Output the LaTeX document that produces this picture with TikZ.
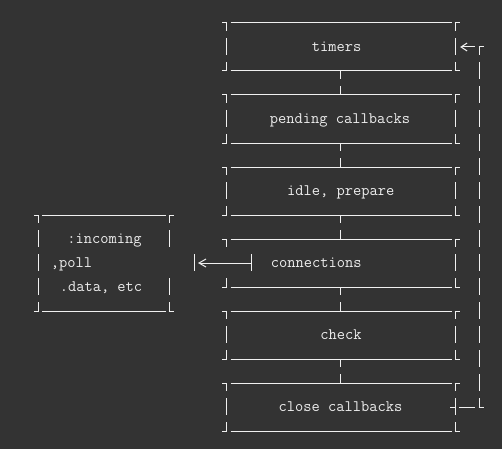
\documentclass[tikz,border=0pt]{standalone}
\usepackage{fontspec}
\usetikzlibrary{calc,arrows.meta}
\definecolor{bg}{HTML}{333333}
\definecolor{fg}{HTML}{F0F0F0}
\definecolor{txt}{HTML}{EEEEEE}
\tikzset{
  ln/.style={draw=fg, line width=1pt},
  rowdash/.style={ln, dash pattern=on 17pt off 7pt, dash phase=9pt},
  stagebox/.style={draw=none, minimum width=228.7pt, minimum height=48pt, inner sep=0pt, outer sep=0pt},
  lbl/.style={text=txt, font=\ttfamily\fontsize{16}{18}\selectfont, inner sep=0pt, anchor=base},
  barb/.style={-{Straight Barb[length=#1pt,width=8pt]}},
}
\newcommand\hedge[2]{%
  \draw[ln] ($(#1)+(-4.5,0)$) -- ($(#1)+(0.5,0)$);
  \draw[ln] ($(#1)+(4,0)$) -- ($(#2)+(-3.5,0)$);
  \draw[ln] ($(#2)+(-0.5,0)$) -- ($(#2)+(5,0)$);
}
\newcommand\stageframe[1]{%
  \hedge{#1.north west}{#1.north east}
  \hedge{#1.south west}{#1.south east}
}
\begin{document}
\begin{tikzpicture}[x=1pt,y=-1pt]
\fill[bg] (0,0) rectangle (502,449);
\useasboundingbox (0,0) rectangle (502,449);

% stage boxes
\node[stagebox] (b0) at (340.85,47) {};
\node[stagebox] (b1) at (340.85,119) {};
\node[stagebox] (b2) at (340.85,191) {};
\node[stagebox] (b3) at (340.85,263) {};
\node[stagebox] (b4) at (340.85,335) {};
\node[stagebox] (b5) at (340.85,407) {};

\foreach \b in {b0,b1,b2,b3,b4,b5}{\stageframe{\b}}
\foreach \b in {b0,b1,b2,b4,b5}{
  \draw[rowdash] (\b.north west) -- (\b.south west);
}
\foreach \b in {b0,b1,b2,b3,b4,b5}{
  \draw[rowdash] (\b.north east) -- (\b.south east);
}
% connections box: left side only corners
\draw[ln] (b3.north west) -- ++(0,8);
\draw[ln] ($(b3.south west)+(0,-9)$) -- (b3.south west);

% labels
\node[lbl] (t0) at (336.7,51.5) {timers};
\node[lbl] (t1) at (340.0,123.5) {pending callbacks};
\node[lbl] (t2) at (340.8,195.5) {idle, prepare};
\node[lbl] (t3) at (316.2,267.5) {connections};
\node[lbl] (t4) at (340.9,339.5) {check};
\node[lbl] (t5) at (340.5,411.5) {close callbacks};

% connectors between stages
\foreach \a/\c in {b0/b1,b1/b2,b2/b3,b3/b4,b4/b5}{
  \draw[rowdash] (\a.south) -- (\c.north);
}

% poll box
\node[draw=none, minimum width=130.7pt, minimum height=96pt, inner sep=0pt, outer sep=0pt] (poll) at (103.65,263) {};
\stageframe{poll}
\draw[rowdash] (poll.north west) -- (poll.south west);
\draw[rowdash] (poll.north east) -- ++(0,32);
\draw[rowdash, dash phase=0pt] ($(poll.south east)+(0,-33)$) -- (poll.south east);
\node[lbl] (p1) at (104.5,243.5) {:incoming};
\node[lbl] (p2) at (71.5,267.5) {,poll};
\node[lbl] (p3) at (101.0,291.5) {.data, etc};

% connections -> poll arrow
\coordinate (cbar) at ($(b3.west)+(24.5,0)$);
\coordinate (pbar) at ($(poll.east)+(25,0)$);
\draw[ln] ($(cbar)+(0,-9)$) -- ($(cbar)+(0,8)$);
\draw[ln] ($(pbar)+(0,-9)$) -- ($(pbar)+(0,8)$);
\draw[ln, barb=7] (cbar) -- ($(pbar)+(4,0)$);

% loop back from close callbacks to timers
\coordinate (lpT) at ($(b0.east)+(24,0)$);
\coordinate (lpB) at ($(b5.east)+(24,0)$);
\draw[rowdash] (lpT) -- (lpB);
\draw[ln] ($(lpT)+(-0.5,0)$) -- ($(lpT)+(5,0)$);
\draw[ln] ($(lpB)+(-0.5,0)$) -- ($(lpB)+(5,0)$);
\draw[ln] ($(b5.east)+(-5,0)$) -- ($(b5.east)+(0.5,0)$);
\draw[ln] ($(b5.east)+(4,0)$) -- ($(b5.east)+(20,0)$);
\draw[ln, barb=6] ($(lpT)+(-4,0)$) -- ($(b0.east)+(5,0)$);
\end{tikzpicture}
\end{document}
